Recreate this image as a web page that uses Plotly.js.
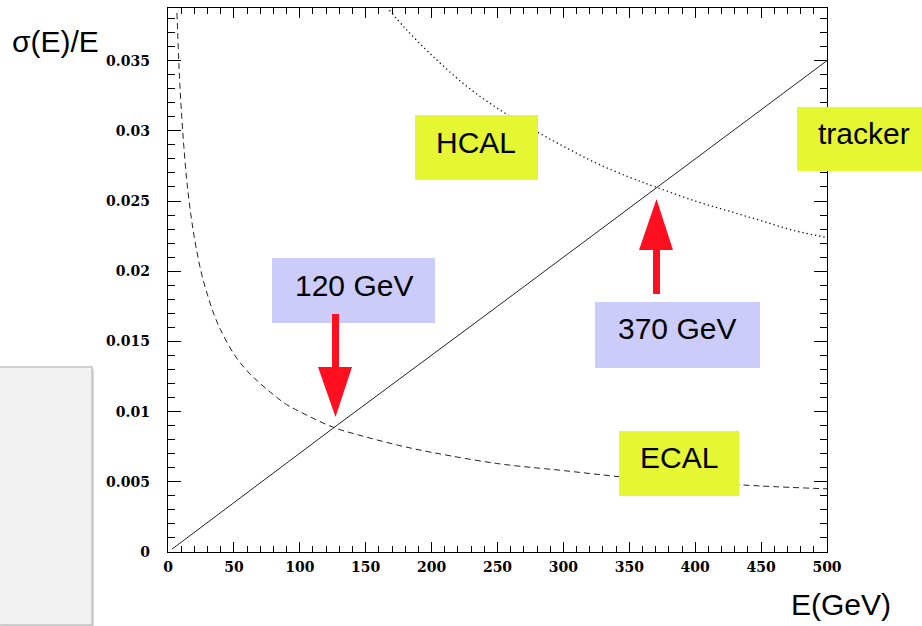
<!DOCTYPE html>
<html>
<head>
<meta charset="utf-8">
<script src="https://cdn.plot.ly/plotly-3.0.1.min.js"></script>
<style>html,body{margin:0;padding:0;background:#fff;}#chart{width:922px;height:626px;}</style>
</head>
<body>
<div id="chart"></div>
<script>
// ---- data ----
const trackerE   = [3, 125, 250, 370, 500];
const trackerRes = [0.0002, 0.0088, 0.0175, 0.0259, 0.0350];

const ecalE   = [6.8, 8, 9, 10.5, 12, 14, 16, 18, 20, 25, 30, 35, 40, 50, 60, 70, 80, 90, 100, 125, 150, 175, 200, 250, 300, 350, 400, 450, 500];
const ecalRes = [0.0384, 0.0354, 0.0333, 0.0309, 0.0289, 0.0267, 0.0250, 0.0236, 0.0224, 0.0200, 0.0183, 0.0169, 0.0158, 0.0141, 0.0129, 0.0120, 0.0112, 0.0105, 0.0100, 0.0089, 0.0082, 0.0076, 0.0071, 0.0063, 0.0058, 0.0053, 0.0050, 0.0047, 0.0045];

const hcalE   = [168, 180, 200, 225, 250, 275, 300, 325, 350, 370, 400, 425, 450, 475, 500];
const hcalRes = [0.0386, 0.0373, 0.0354, 0.0333, 0.0316, 0.0302, 0.0289, 0.0277, 0.0267, 0.0260, 0.0250, 0.0243, 0.0236, 0.0229, 0.0224];

const xTickVals = [0, 50, 100, 150, 200, 250, 300, 350, 400, 450, 500];
const xTickText = ["0", "50", "100", "150", "200", "250", "300", "350", "400", "450", "500"];
const yTickVals = [0, 0.005, 0.01, 0.015, 0.02, 0.025, 0.03, 0.035];
const yTickText = ["0", "0.005", "0.01", "0.015", "0.02", "0.025", "0.03", "0.035"];

const labelTexts = ["HCAL", "tracker", "ECAL", "120 GeV", "370 GeV"];

// ---- layout helpers (pixel -> paper) ----
const L = 168, R = 827, T = 8, B = 552;
const px = v => (v - L) / (R - L);
const py = v => (B - v) / (B - T);

const yellow = "#e5f632";
const lav = "#ccccfb";
const red = "#ff1020";

function box(x0, y0, x1, y1, color) {
  return {type: "rect", xref: "paper", yref: "paper", x0: px(x0), x1: px(x1), y0: py(y1), y1: py(y0),
          fillcolor: color, line: {width: 0}, layer: "above"};
}
function poly(pts, color) {
  const d = "M " + pts.map(p => px(p[0]) + "," + py(p[1])).join(" L ") + " Z";
  return {type: "path", xref: "paper", yref: "paper", path: d, fillcolor: color, line: {width: 0}, layer: "above"};
}
function label(text, cx, cy) {
  return {xref: "paper", yref: "paper", x: px(cx), y: py(cy), text: text, showarrow: false,
          xanchor: "center", yanchor: "middle",
          font: {family: "Liberation Sans, Arial, sans-serif", size: 30, color: "#000"}};
}

const traces = [
  {x: trackerE, y: trackerRes, type: "scatter", mode: "lines", line: {color: "#222", width: 1}, hoverinfo: "skip"},
  {x: ecalE, y: ecalRes, type: "scatter", mode: "lines", line: {color: "#222", width: 1, dash: "6px,4px", shape: "spline"}, hoverinfo: "skip"},
  {x: hcalE, y: hcalRes, type: "scatter", mode: "lines", line: {color: "#111", width: 1.3, dash: "1.3px,3px", shape: "spline"}, hoverinfo: "skip"}
];

const tickFont = {family: "DejaVu Serif, serif", size: 14, color: "#000", weight: "bold"};

const layout = {
  width: 922, height: 626,
  margin: {l: L, r: 922 - R, t: T, b: 626 - B, pad: 0},
  paper_bgcolor: "#fff", plot_bgcolor: "#fff",
  showlegend: false,
  xaxis: {
    range: [0, 500], tickmode: "array", tickvals: xTickVals, ticktext: xTickText,
    ticks: "inside", ticklen: 10, tickwidth: 1, tickcolor: "#000",
    minor: {dtick: 10, tick0: 0, ticks: "inside", ticklen: 6, tickwidth: 1, tickcolor: "#000", showgrid: false},
    showline: true, linecolor: "#000", linewidth: 1.3, mirror: "ticks",
    showgrid: false, zeroline: false, tickfont: tickFont, ticklabelstandoff: 2
  },
  yaxis: {
    range: [0, 0.03875], tickmode: "array", tickvals: yTickVals, ticktext: yTickText,
    ticks: "inside", ticklen: 13, tickwidth: 1, tickcolor: "#000",
    minor: {dtick: 0.001, tick0: 0, ticks: "inside", ticklen: 7, tickwidth: 1, tickcolor: "#000", showgrid: false},
    showline: true, linecolor: "#000", linewidth: 1.3, mirror: "ticks",
    showgrid: false, zeroline: false, tickfont: tickFont, ticklabelstandoff: 14
  },
  shapes: [
    // grey panel at left
    {type: "rect", xref: "paper", yref: "paper", x0: px(2), x1: px(94), y0: py(627), y1: py(369), fillcolor: "#d8d8d8", line: {width: 0}, layer: "below"},
    {type: "rect", xref: "paper", yref: "paper", x0: px(-2), x1: px(92), y0: py(625), y1: py(367), fillcolor: "#f2f2f2", line: {color: "#c4c4c4", width: 1.5}, layer: "below"},
    box(415, 115, 538, 180, yellow),
    box(797, 107, 930, 171, yellow),
    box(619, 431, 739, 496, yellow),
    box(272, 258, 435, 323, lav),
    box(595, 302, 760, 368, lav),
    // arrow at 120 GeV (pointing down)
    poly([[332, 314], [339, 314], [339, 367], [352, 367], [335.5, 417], [318, 367], [332, 367]], red),
    // arrow at 370 GeV (pointing up)
    poly([[653, 294], [660, 294], [660, 250], [673, 250], [656.5, 199], [639, 250], [653, 250]], red)
  ],
  annotations: [
    label(labelTexts[0], 476, 142),
    label(labelTexts[1], 864, 134),
    label(labelTexts[2], 679, 457),
    label(labelTexts[3], 353.5, 285),
    label(labelTexts[4], 677, 328),
    {xref: "paper", yref: "paper", x: px(10), y: py(41), xanchor: "left", yanchor: "middle", showarrow: false,
     text: "σ(E)/E", font: {family: "Liberation Sans, Arial, sans-serif", size: 30, color: "#000"}},
    {xref: "paper", yref: "paper", x: px(893), y: py(604), xanchor: "right", yanchor: "middle", showarrow: false,
     text: "E(GeV)", font: {family: "Liberation Sans, Arial, sans-serif", size: 30, color: "#000"}}
  ]
};

Plotly.newPlot("chart", traces, layout, {staticPlot: true, displayModeBar: false});
</script>
</body>
</html>
